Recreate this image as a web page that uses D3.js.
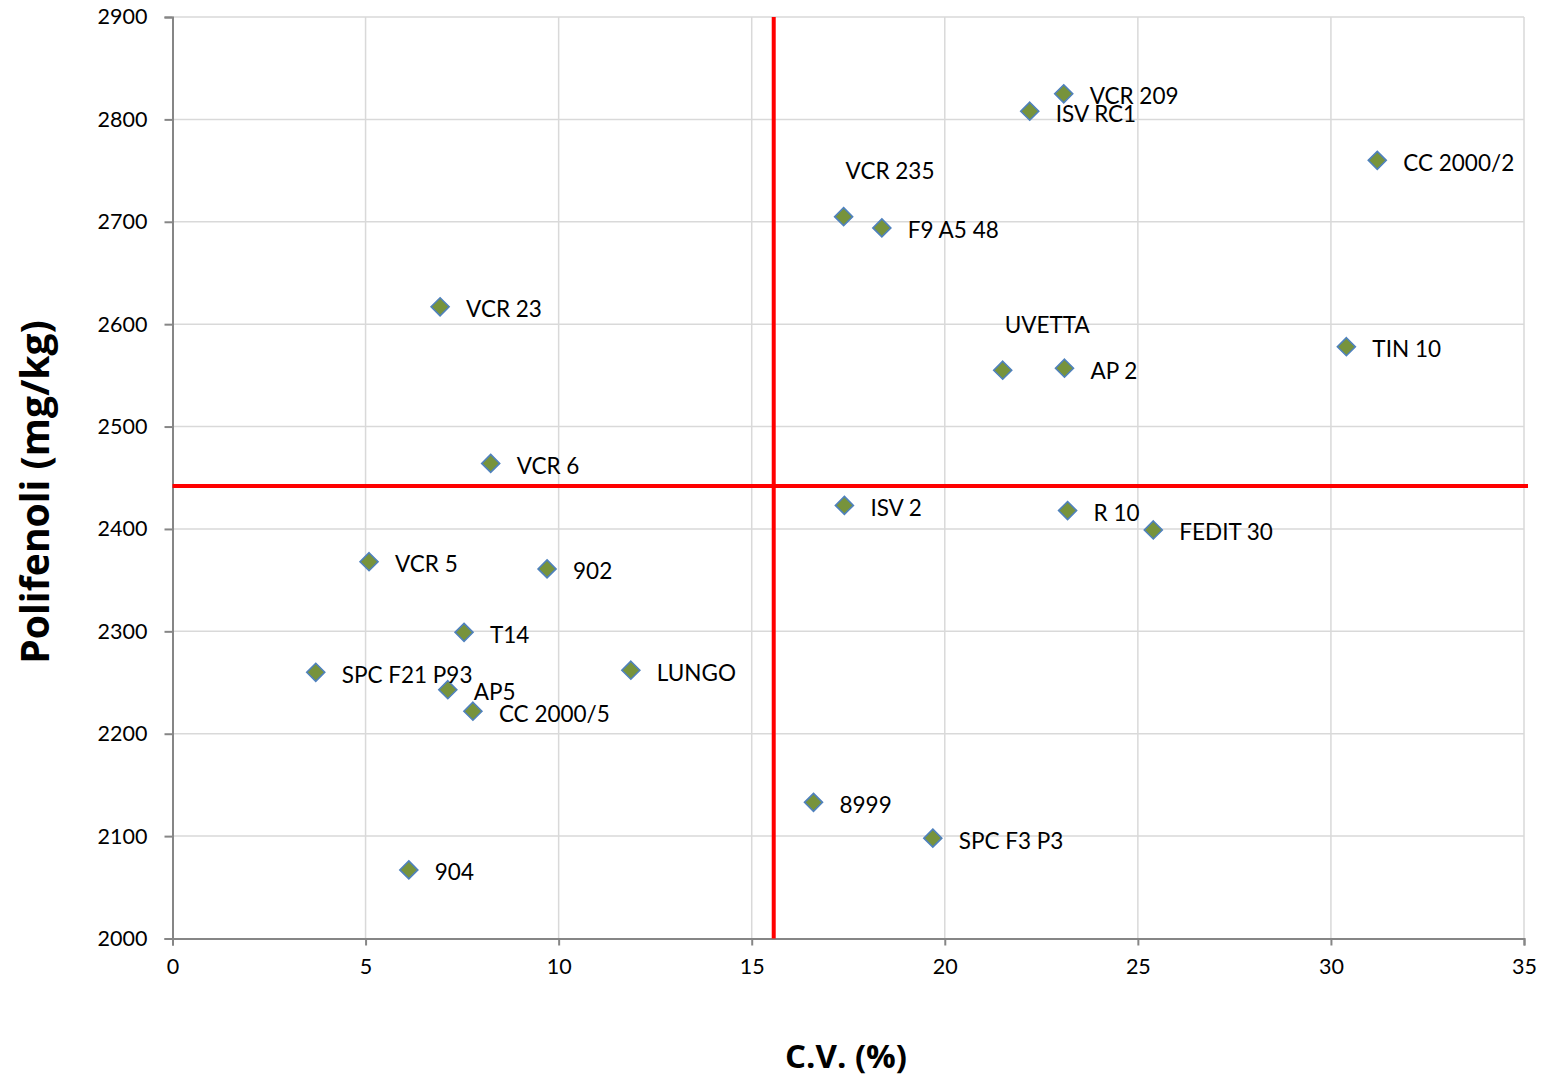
<!DOCTYPE html>
<html><head><meta charset="utf-8">
<script src="https://cdn.jsdelivr.net/npm/d3@7"></script>
<style>body{margin:0;background:#fff;} svg{display:block;} text{font-family:"Lato","Open Sans",sans-serif;}</style>
</head><body>
<svg id="c" width="1551" height="1076"></svg>
<script>
const names = ["VCR 209","ISV RC1","CC 2000/2","VCR 235","F9 A5 48","VCR 23","UVETTA","AP 2","TIN 10","VCR 6","ISV 2","R 10","FEDIT 30","VCR 5","902","T14","SPC F21 P93","LUNGO","AP5","CC 2000/5","8999","SPC F3 P3","904"];
const cv = [23.08,22.2,31.2,17.38,18.37,6.93,21.5,23.1,30.4,8.24,17.4,23.18,25.4,5.09,9.7,7.55,3.71,11.87,7.13,7.78,16.6,19.69,6.12];
const polifenoli = [2825,2808,2760,2705,2694,2617,2555,2557,2578,2464,2423,2418,2399,2368,2361,2299,2260,2262,2243,2222,2133,2098,2067];
const labelAbove = ["VCR 235","UVETTA"];
const xTicks = [0,5,10,15,20,25,30,35];
const yTicks = [2000,2100,2200,2300,2400,2500,2600,2700,2800,2900];
const meanCV = 15.57;
const meanPoli = 2442;

const svg = d3.select("#c");
const x = d3.scaleLinear().domain([0,35]).range([172.5,1524]);
const y = d3.scaleLinear().domain([2000,2900]).range([938.5,17]);

// gridlines
svg.append("g").selectAll("line").data(xTicks.slice(1)).join("line")
  .attr("x1",d=>x(d)).attr("x2",d=>x(d)).attr("y1",y(2000)).attr("y2",y(2900))
  .attr("stroke","#d9d9d9").attr("stroke-width",1.5);
svg.append("g").selectAll("line").data(yTicks.slice(1)).join("line")
  .attr("x1",x(0)).attr("x2",x(35)).attr("y1",d=>y(d)).attr("y2",d=>y(d))
  .attr("stroke","#d9d9d9").attr("stroke-width",1.5);

// axes
const xAxis = svg.append("g").attr("transform",`translate(0,${y(2000)})`)
  .call(d3.axisBottom(x).tickValues(xTicks).tickSize(7).tickPadding(13).tickFormat(d3.format("d")));
const yAxis = svg.append("g").attr("transform",`translate(${x(0)},0)`)
  .call(d3.axisLeft(y).tickValues(yTicks).tickSize(8).tickPadding(17).tickFormat(d3.format("d")));
[xAxis,yAxis].forEach(a=>{
  a.attr("font-size",null).attr("font-family",null);
  a.select(".domain").attr("stroke","#868686").attr("stroke-width",2);
  a.selectAll(".tick line").attr("stroke","#868686").attr("stroke-width",2);
  a.selectAll(".tick text").style("font-size","21.5px").attr("fill","#000").style("font-family","Lato,'Open Sans',sans-serif");
});

// reference lines
svg.append("line").attr("x1",x(meanCV)).attr("x2",x(meanCV)).attr("y1",y(2900)).attr("y2",y(2000))
  .attr("stroke","#ff0000").attr("stroke-width",4);
svg.append("line").attr("x1",x(0)).attr("x2",x(35)+4).attr("y1",y(meanPoli)).attr("y2",y(meanPoli))
  .attr("stroke","#ff0000").attr("stroke-width",4);

// points
const data = names.map((n,i)=>({n, cv:cv[i], p:polifenoli[i]}));
const r = 9;
svg.append("g").selectAll("path").data(data).join("path")
  .attr("d",`M0,${-r}L${r},0L0,${r}L${-r},0Z`)
  .attr("transform",d=>`translate(${x(d.cv)},${y(d.p)})`)
  .attr("fill","#77933c").attr("stroke","#4f81bd").attr("stroke-width",1.6);

svg.append("g").selectAll("text").data(data).join("text")
  .attr("x",d=>labelAbove.includes(d.n)? x(d.cv)+2 : x(d.cv)+26)
  .attr("y",d=>labelAbove.includes(d.n)? y(d.p)-46 : y(d.p)+2)
  .attr("dominant-baseline","central")
  .style("font-size","22.5px").attr("fill","#000")
  .text(d=>d.n);

// axis titles
svg.append("text").attr("x",846).attr("y",1055).attr("text-anchor","middle").attr("dominant-baseline","central")
  .style("font-family","'Open Sans',sans-serif").style("font-size","33px").attr("font-weight","bold").text("C.V. (%)");
svg.append("text").attr("transform","translate(33,492) rotate(-90)").attr("text-anchor","middle").attr("dominant-baseline","central")
  .style("font-family","'Open Sans',sans-serif").style("font-size","39px").attr("font-weight","bold").text("Polifenoli (mg/kg)");
</script>
</body></html>
